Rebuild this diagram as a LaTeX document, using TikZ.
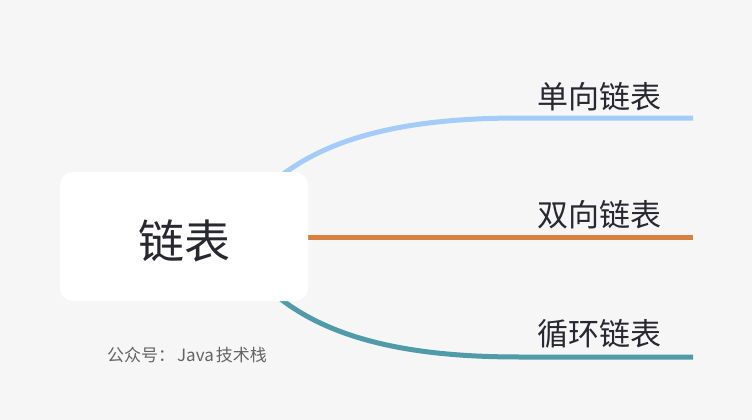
\documentclass[tikz,border=0pt]{standalone}
\usepackage{fontspec}
\setmainfont{Noto Sans CJK SC}
\definecolor{bgc}{RGB}{246,246,246}
\definecolor{txtc}{RGB}{40,40,48}
\definecolor{bluec}{RGB}{164,204,250}
\definecolor{orangec}{RGB}{216,128,62}
\definecolor{tealc}{RGB}{80,155,168}
\definecolor{wmc}{RGB}{100,100,100}
\tikzset{
  branch/.style={line width=5pt, line cap=butt},
  rootbox/.style={fill=white, rounded corners=13pt, minimum width=248pt, minimum height=129pt, inner sep=0pt},
  leaflabel/.style={font=\fontsize{31}{31}\selectfont, text=txtc, inner sep=0pt, anchor=center},
}
\begin{document}
\begin{tikzpicture}[x=1pt,y=-1pt]
\fill[bgc] (0,0) rectangle (752,420);
\useasboundingbox (0,0) rectangle (752,420);
\coordinate (s1) at (230,237);
\coordinate (e1) at (520,118);
\coordinate (f1) at (693,118);
\coordinate (s2) at (230,237);
\coordinate (f2) at (693,237);
\coordinate (s3) at (230,238);
\coordinate (e3) at (520,357);
\coordinate (f3) at (693,357);
\draw[branch, bluec] (s1) .. controls (280,140) and (395,118) .. (e1) -- (f1);
\draw[branch, orangec] (s2) -- (f2);
\draw[branch, tealc] (s3) .. controls (280,335) and (395,357) .. (e3) -- (f3);
\node[rootbox] (root) at (184,236.5) {};
\node[font=\fontsize{46}{46}\selectfont, text=txtc, inner sep=0pt] (rt) at (184,241) {链表};
\node[leaflabel] (l1) at (599,97) {单向链表};
\node[leaflabel] (l2) at (599,215) {双向链表};
\node[leaflabel] (l3) at (599,334) {循环链表};
\node[font=\fontsize{17}{17}\selectfont, text=wmc, inner sep=0pt] (wm) at (187,355) {公众号：\hspace{2pt}Java\hspace{2pt}技术栈};
\end{tikzpicture}
\end{document}
